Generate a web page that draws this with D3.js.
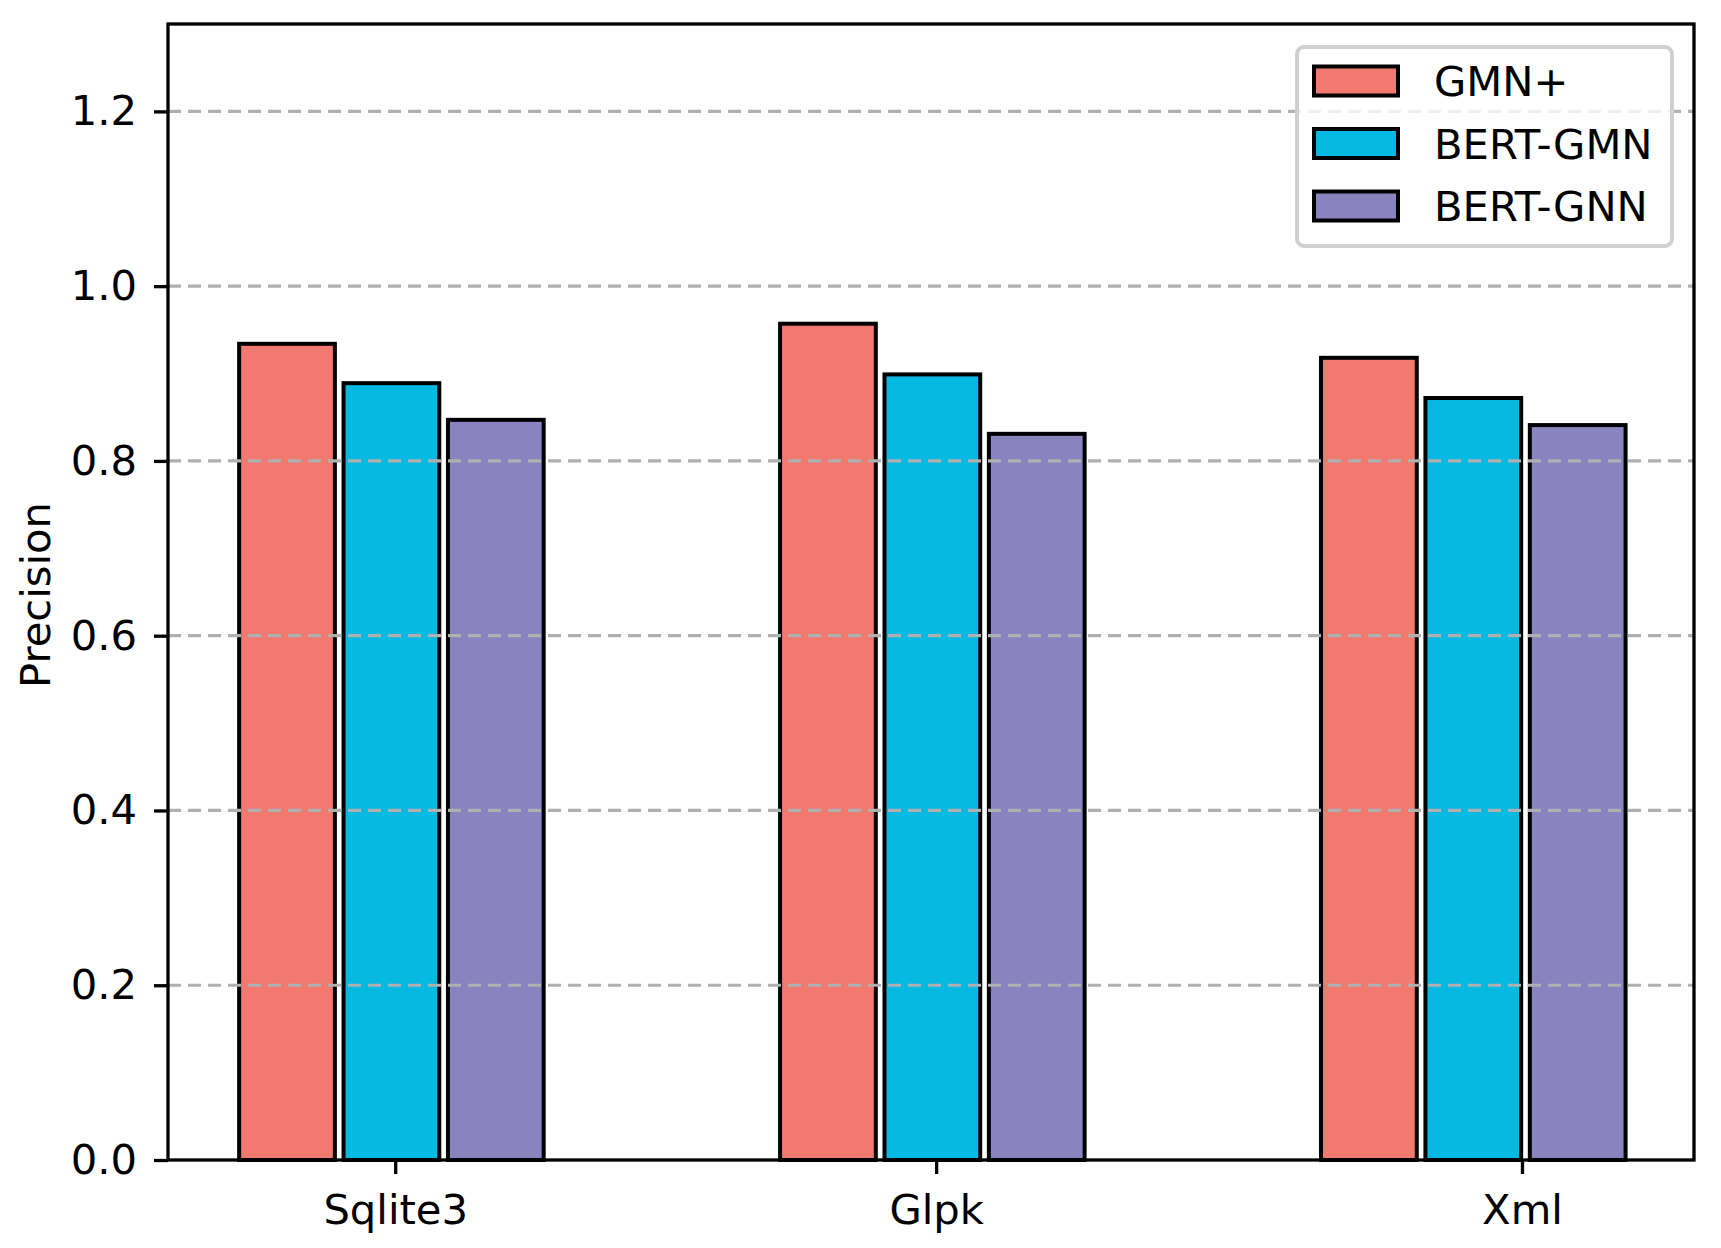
<!DOCTYPE html>
<html>
<head>
<meta charset="utf-8">
<script src="https://cdn.jsdelivr.net/npm/d3@7"></script>
<style>
  body { margin: 0; background: #fff; }
  svg text { font-family: "DejaVu Sans", sans-serif; fill: #000; }
</style>
</head>
<body>
<div id="chart"></div>
<script>
// data
const categories = ["Sqlite3", "Glpk", "Xml"];
const tickPositions = [0.2, 1.2, 2.283];   // where the x ticks sit (in bar units)
const seriesNames = ["GMN+", "BERT-GMN", "BERT-GNN"];
const gmnPlus = [0.934, 0.957, 0.918];
const bertGmn = [0.889, 0.899, 0.872];
const bertGnn = [0.847, 0.831, 0.841];
const colors = ["#F27970", "#05B9E2", "#8983BF"];
const yTicks = [0.0, 0.2, 0.4, 0.6, 0.8, 1.0, 1.2];

const seriesValues = [gmnPlus, bertGmn, bertGnn];

const width = 1721;
const height = 1248;
const plot = { left: 168, right: 1694, top: 24, bottom: 1160 };
const fontSize = 41.7;
const barWidth = 0.177;
const barStep = 0.193;

const svg = d3.select("#chart")
    .append("svg")
    .attr("width", width)
    .attr("height", height)
    .attr("viewBox", `0 0 ${width} ${height}`);

svg.append("rect").attr("width", width).attr("height", height).attr("fill", "#fff");

const xScale = d3.scaleLinear().domain([-0.22, 2.601]).range([plot.left, plot.right]);
const yScale = d3.scaleLinear().domain([0, 1.3]).range([plot.bottom, plot.top]);

// bars
const bars = [];
seriesValues.forEach((vals, s) => {
    vals.forEach((v, i) => bars.push({ s, i, v }));
});

svg.append("g")
    .selectAll("rect")
    .data(bars)
    .enter()
    .append("rect")
    .attr("x", d => xScale(d.i + d.s * barStep - barWidth / 2))
    .attr("width", xScale(barWidth) - xScale(0))
    .attr("y", d => yScale(d.v))
    .attr("height", d => yScale(0) - yScale(d.v))
    .attr("fill", d => colors[d.s])
    .attr("stroke", "#000")
    .attr("stroke-width", 4);

// gridlines (drawn over the bars, like the original)
svg.append("g")
    .selectAll("line")
    .data(yTicks.filter(t => t > 0))
    .enter()
    .append("line")
    .attr("x1", plot.left)
    .attr("x2", plot.right)
    .attr("y1", d => yScale(d))
    .attr("y2", d => yScale(d))
    .attr("stroke", "#b0b0b0")
    .attr("stroke-width", 3.2)
    .attr("stroke-dasharray", "13,7");

// y axis
const yAxis = svg.append("g")
    .attr("transform", `translate(${plot.left},0)`)
    .call(d3.axisLeft(yScale).tickValues(yTicks).tickFormat(d3.format(".1f")).tickSize(14).tickPadding(17));
yAxis.select(".domain").remove();
yAxis.selectAll(".tick line").attr("stroke", "#000").attr("stroke-width", 3.3);
yAxis.selectAll(".tick text")
    .attr("font-size", fontSize)
    .attr("font-family", "DejaVu Sans");

// x axis
const xAxis = svg.append("g")
    .attr("transform", `translate(0,${plot.bottom})`)
    .call(d3.axisBottom(xScale).tickValues(tickPositions)
        .tickFormat((d, i) => categories[i]).tickSize(14).tickPadding(20));
xAxis.select(".domain").remove();
xAxis.selectAll(".tick line").attr("stroke", "#000").attr("stroke-width", 3.3);
xAxis.selectAll(".tick text")
    .attr("font-size", fontSize)
    .attr("font-family", "DejaVu Sans");

// frame
svg.append("rect")
    .attr("x", plot.left)
    .attr("y", plot.top)
    .attr("width", plot.right - plot.left)
    .attr("height", plot.bottom - plot.top)
    .attr("fill", "none")
    .attr("stroke", "#000")
    .attr("stroke-width", 3.3);

// y label
svg.append("text")
    .attr("transform", "translate(50,595) rotate(-90)")
    .attr("text-anchor", "middle")
    .attr("font-size", fontSize)
    .text("Precision");

// legend
const legend = svg.append("g");
legend.append("rect")
    .attr("x", 1297)
    .attr("y", 47)
    .attr("width", 375)
    .attr("height", 199)
    .attr("rx", 7)
    .attr("fill", "#fff")
    .attr("fill-opacity", 0.8)
    .attr("stroke", "#d0d0d0")
    .attr("stroke-width", 4);

const rowY = [81, 143.5, 206];
seriesNames.forEach((name, s) => {
    legend.append("rect")
        .attr("x", 1314)
        .attr("y", rowY[s] - 14.5)
        .attr("width", 84)
        .attr("height", 29)
        .attr("fill", colors[s])
        .attr("stroke", "#000")
        .attr("stroke-width", 4);
    legend.append("text")
        .attr("x", 1434)
        .attr("y", rowY[s])
        .attr("dy", "0.36em")
        .attr("font-size", fontSize)
        .text(name);
});
</script>
</body>
</html>
